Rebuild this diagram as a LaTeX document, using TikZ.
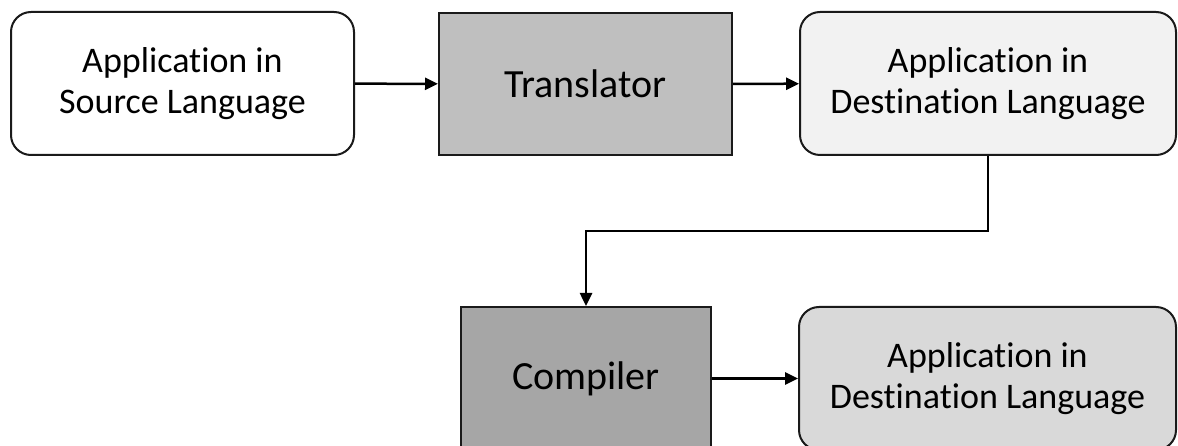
\documentclass[tikz,border=0pt]{standalone}
\usepackage{fontspec}
\setmainfont{Carlito}[Ligatures=NoCommon]
\usetikzlibrary{arrows.meta}

\definecolor{edge}{HTML}{1A1A1A}
\definecolor{transfill}{HTML}{BFBFBF}
\definecolor{compfill}{HTML}{A6A6A6}
\definecolor{destfill}{HTML}{F2F2F2}
\definecolor{outfill}{HTML}{D9D9D9}

\tikzset{
  appbox/.style={draw=edge, line width=2pt, rounded corners=20pt,
    align=center, inner sep=0pt, font=\fontsize{36}{41}\selectfont},
  toolbox/.style={draw=edge, line width=2pt, align=center, inner sep=0pt,
    font=\fontsize{40}{48}\selectfont},
  flow/.style={draw=black, line width=2.5pt,
    -{Triangle[length=13pt,width=12pt]}}
}

\begin{document}
\begin{tikzpicture}[x=1pt, y=-1pt]
  \useasboundingbox (0,0) rectangle (1178,446);

  % upper row: source application, translator, translated application
  \node[appbox, fill=white, minimum width=343pt, minimum height=143pt]
    (src) at (182.5,83.5) {Application in\\Source Language};
  \node[toolbox, fill=transfill, minimum width=293pt, minimum height=142pt]
    (trans) at (585.5,84) {Translator};
  \node[appbox, fill=destfill, minimum width=376pt, minimum height=143pt]
    (dest) at (988,83.5) {Application in\\Destination Language};

  % lower row: compiler and its output (boxes run past the lower edge)
  \node[toolbox, fill=compfill, minimum width=250pt, minimum height=143pt]
    (comp) at (586,378.5) {Compiler};
  \node[appbox, fill=outfill, minimum width=377pt, minimum height=143pt]
    (out) at (987.5,378.5) {Application in\\Destination Language};

  % connectors
  \coordinate (turn) at (988,231);
  \draw[flow] (src) -- (trans);
  \draw[flow] (trans) -- (dest);
  \draw[flow] (dest.south) -- (turn) -| (comp.north);
  \draw[flow] (comp) -- (out);
\end{tikzpicture}
\end{document}
